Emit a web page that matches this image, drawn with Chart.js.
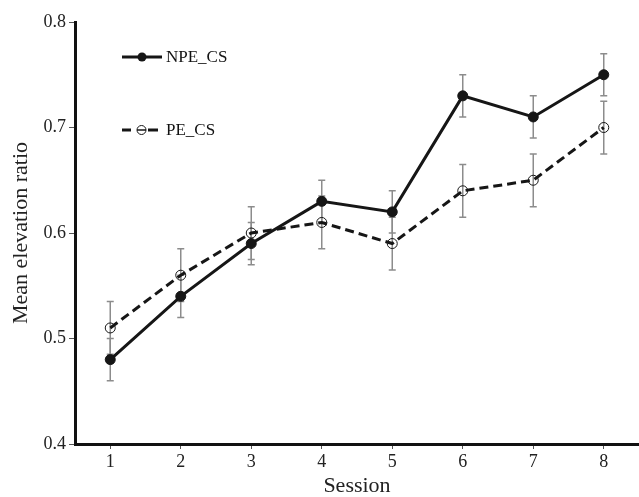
<!DOCTYPE html>
<html>
<head>
<meta charset="utf-8">
<script src="https://cdn.jsdelivr.net/npm/chart.js@4/dist/chart.umd.min.js"></script>
<style>
html,body{margin:0;padding:0;background:#fff;}
#wrap{width:639px;height:497px;position:relative;}
</style>
</head>
<body>
<div id="wrap"><canvas id="c" width="639" height="497"></canvas></div>
<script>
const sessions = [1, 2, 3, 4, 5, 6, 7, 8];
const npeMean = [0.48, 0.54, 0.59, 0.63, 0.62, 0.73, 0.71, 0.75];
const npeErr  = [0.02, 0.02, 0.02, 0.02, 0.02, 0.02, 0.02, 0.02];
const peMean  = [0.51, 0.56, 0.60, 0.61, 0.59, 0.64, 0.65, 0.70];
const peErr   = [0.025, 0.025, 0.025, 0.025, 0.025, 0.025, 0.025, 0.025];
const yTicks  = [0.4, 0.5, 0.6, 0.7, 0.8];
const seriesNames = ['NPE_CS', 'PE_CS'];

const FONT = '"Liberation Serif", "Times New Roman", serif';
const LINE = '#161616';

const errorBars = {
  id: 'errorBars',
  beforeDatasetsDraw(chart) {
    const ctx = chart.ctx;
    const x = chart.scales.x, y = chart.scales.y;
    const sets = [[npeMean, npeErr], [peMean, peErr]];
    ctx.save();
    ctx.strokeStyle = '#8c8c8c';
    ctx.lineWidth = 1.5;
    sets.forEach(([m, e]) => {
      m.forEach((v, i) => {
        const px = x.getPixelForValue(sessions[i]);
        const top = y.getPixelForValue(v + e[i]);
        const bot = y.getPixelForValue(v - e[i]);
        ctx.beginPath();
        ctx.moveTo(px, top); ctx.lineTo(px, bot);
        ctx.moveTo(px - 3.5, top); ctx.lineTo(px + 3.5, top);
        ctx.moveTo(px - 3.5, bot); ctx.lineTo(px + 3.5, bot);
        ctx.stroke();
      });
    });
    ctx.restore();
  }
};

const inLegend = {
  id: 'inLegend',
  afterDraw(chart) {
    const ctx = chart.ctx;
    ctx.save();
    ctx.font = '17px ' + FONT;
    ctx.textBaseline = 'middle';
    // NPE_CS
    let yy = 57;
    ctx.strokeStyle = LINE; ctx.lineWidth = 3; ctx.setLineDash([]);
    ctx.beginPath(); ctx.moveTo(122, yy); ctx.lineTo(162, yy); ctx.stroke();
    ctx.beginPath(); ctx.arc(142, yy, 4.5, 0, Math.PI * 2); ctx.fillStyle = LINE; ctx.fill();
    ctx.fillStyle = '#111';
    ctx.fillText(seriesNames[0], 166, yy + 1);
    // PE_CS
    yy = 130;
    ctx.lineWidth = 3;
    ctx.beginPath(); ctx.moveTo(122, yy); ctx.lineTo(131, yy); ctx.moveTo(148, yy); ctx.lineTo(158, yy); ctx.stroke();
    ctx.lineWidth = 1;
    ctx.beginPath(); ctx.arc(141.5, yy, 4.5, 0, Math.PI * 2); ctx.fillStyle = '#fff'; ctx.fill(); ctx.stroke();
    ctx.lineWidth = 1.5;
    ctx.beginPath(); ctx.moveTo(137, yy); ctx.lineTo(146, yy); ctx.stroke();
    ctx.fillStyle = '#111';
    ctx.fillText(seriesNames[1], 166, yy + 1);
    ctx.restore();
  }
};

new Chart(document.getElementById('c'), {
  type: 'line',
  data: {
    datasets: [
      {
        label: seriesNames[0],
        data: sessions.map((s, i) => ({ x: s, y: npeMean[i] })),
        borderColor: LINE,
        borderWidth: 3,
        pointRadius: 5,
        pointBackgroundColor: LINE,
        pointBorderColor: LINE,
        pointBorderWidth: 1,
        tension: 0,
        fill: false
      },
      {
        label: seriesNames[1],
        data: sessions.map((s, i) => ({ x: s, y: peMean[i] })),
        borderColor: LINE,
        borderWidth: 3,
        borderDash: [9, 5],
        pointRadius: 5,
        pointBackgroundColor: 'rgba(255,255,255,0)',
        pointBorderColor: LINE,
        pointBorderWidth: 1,
        tension: 0,
        fill: false
      }
    ]
  },
  options: {
    responsive: false,
    animation: false,
    devicePixelRatio: 1,
    layout: { autoPadding: false, padding: { top: 22, right: 0, left: 0, bottom: 0 } },
    plugins: { legend: { display: false }, tooltip: { enabled: false } },
    scales: {
      x: {
        type: 'linear',
        min: 0.5,
        max: 8.5,
        afterBuildTicks(scale) { scale.ticks = sessions.map(v => ({ value: v })); },
        grid: { drawOnChartArea: false, drawTicks: true, tickLength: 5, color: '#555', lineWidth: 1 },
        border: { color: '#111', width: 3 },
        ticks: { font: { family: FONT, size: 18 }, color: '#222', padding: 2, maxRotation: 0, callback: v => String(v) },
        title: { display: true, text: 'Session', font: { family: FONT, size: 22, lineHeight: 1 }, color: '#222', padding: { top: 0, bottom: 0 } },
        afterFit(scale) { scale.height = 53; scale.paddingRight = 0; scale.paddingLeft = 0; }
      },
      y: {
        min: 0.4,
        max: 0.8,
        afterBuildTicks(scale) { scale.ticks = yTicks.map(v => ({ value: v })); },
        grid: { drawOnChartArea: false, drawTicks: true, tickLength: 6, color: '#555', lineWidth: 1 },
        border: { color: '#111', width: 3 },
        ticks: { font: { family: FONT, size: 18 }, color: '#222', padding: 3, callback: v => Number(v).toFixed(1) },
        title: { display: true, text: 'Mean elevation ratio', font: { family: FONT, size: 22, lineHeight: 1 }, color: '#222', padding: { top: 10, bottom: 0 } },
        afterFit(scale) { scale.width = 75; }
      }
    }
  },
  plugins: [errorBars, inLegend]
});
</script>
</body>
</html>
